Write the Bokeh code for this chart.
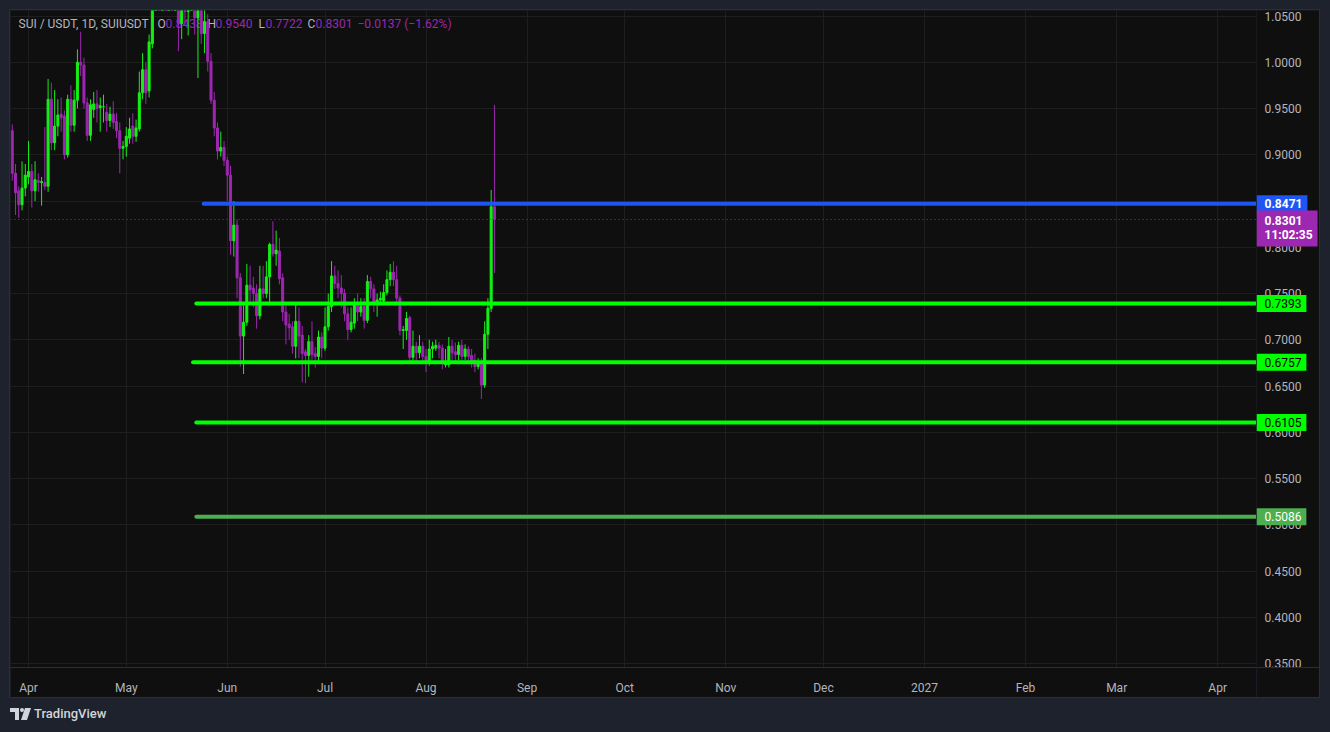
import pandas as pd
from bokeh.plotting import figure
from bokeh.models import (Range1d, FixedTicker, Label, Span, ColumnDataSource, Div)
from bokeh.layouts import column, row
from bokeh.embed import file_html
from bokeh.resources import INLINE
from bokeh.core.properties import value

# ---------------- data ----------------
start_date = "2026-03-27"

opens = [
    .926, .880, .861, .846, .864,
    .876, .882, .861, .872, .870, .870, .866, .960, .913, .931,
    .944, .942, .900, .960, .932, .959, 1.000, .997, .956, .921,
    .949, .955, .951, .952, .946, .937, .944, .936, .926, .907,
    .909, .918, .931, .920, .928, .967, .992, .969, 1.020, 1.070,
    1.090, 1.080, 1.110, 1.090, 1.100, 1.075, 1.080, 1.042, 1.070, 1.055,
    1.072, 1.085, 1.048, 1.070, 1.031, 1.044, 1.001, .959, .929, .904,
    .908, .894, .878, .807, .824, .767, .704, .719, .759, .756,
    .750, .726, .755, .750, .768, .803, .793, .796, .767, .730,
    .717, .714, .693, .720, .705, .687, .683, .698, .685, .682,
    .703, .691, .714, .736, .769, .761, .756, .750, .728, .711,
    .718, .740, .730, .736, .721, .763, .755, .740, .743, .742,
    .751, .765, .773, .765, .745, .710, .710, .724, .681, .693,
    .686, .693, .682, .676, .690, .691, .694, .691, .673, .673,
    .693, .687, .684, .694, .682, .690, .683, .678, .671, .676,
    .651, .706, .734, .8438,
]
highs = [
    .933, .890, .866, .893, .890,
    .915, .890, .893, .880, .876, .930, .982, .978, .970, .960,
    .962, .948, .965, .975, .970, 1.014, 1.033, 1.005, .962, .960,
    .968, .970, .962, .965, .955, .952, .958, .945, .935, .915,
    .930, .940, .945, .938, .990, 1.010, 1.000, 1.030, 1.080, 1.100,
    1.110, 1.120, 1.125, 1.115, 1.110, 1.095, 1.090, 1.085, 1.080, 1.085,
    1.095, 1.095, 1.080, 1.085, 1.060, 1.052, 1.010, .968, .935, .925,
    .915, .898, .888, .850, .830, .772, .740, .782, .780, .768,
    .760, .780, .780, .785, .805, .828, .818, .810, .772, .738,
    .728, .720, .740, .735, .715, .690, .705, .720, .692, .710,
    .708, .735, .750, .785, .780, .775, .770, .755, .735, .735,
    .745, .750, .745, .745, .770, .768, .760, .750, .752, .760,
    .775, .782, .785, .780, .748, .715, .730, .726, .710, .698,
    .705, .698, .690, .700, .698, .700, .698, .695, .690, .703,
    .700, .697, .698, .700, .695, .693, .690, .685, .680, .680,
    .720, .745, .862, .954,
]
lows = [
    .872, .835, .832, .840, .855,
    .868, .843, .850, .860, .845, .862, .860, .905, .905, .920,
    .925, .895, .897, .925, .925, .950, .985, .950, .915, .915,
    .940, .935, .925, .935, .925, .930, .928, .918, .880, .895,
    .898, .912, .912, .914, .925, .960, .955, .962, 1.015, 1.060,
    1.070, 1.075, 1.085, 1.075, 1.065, 1.060, 1.012, 1.025, 1.040, 1.029,
    1.060, 1.030, .983, 1.020, 1.010, .990, .955, .920, .895, .898,
    .888, .850, .792, .790, .745, .671, .663, .715, .740, .735,
    .712, .722, .745, .745, .740, .790, .780, .760, .720, .695,
    .700, .685, .680, .680, .654, .653, .660, .678, .670, .675,
    .680, .688, .710, .730, .755, .745, .735, .720, .700, .708,
    .712, .720, .725, .712, .718, .745, .730, .725, .738, .738,
    .748, .758, .758, .740, .705, .690, .700, .675, .675, .675,
    .680, .675, .665, .672, .680, .688, .680, .668, .670, .670,
    .678, .675, .678, .675, .678, .675, .670, .665, .668, .636,
    .648, .690, .730, .7722,
]
closes = [
    .880, .859, .846, .864, .878,
    .882, .861, .873, .870, .871, .866, .960, .913, .931, .943,
    .940, .900, .960, .932, .959, 1.000, .997, .956, .921, .954,
    .955, .950, .953, .952, .937, .944, .935, .926, .907, .909,
    .920, .928, .920, .929, .967, .992, .967, 1.022, 1.070, 1.090,
    1.080, 1.110, 1.090, 1.100, 1.075, 1.080, 1.042, 1.070, 1.055, 1.072,
    1.085, 1.048, 1.070, 1.031, 1.044, 1.001, .959, .929, .904, .908,
    .894, .878, .807, .824, .767, .704, .719, .759, .754, .750,
    .726, .755, .750, .768, .803, .793, .797, .766, .730, .716,
    .713, .693, .720, .704, .685, .683, .698, .684, .682, .703,
    .691, .714, .736, .769, .761, .756, .750, .728, .711, .719,
    .738, .730, .736, .721, .763, .755, .740, .743, .745, .751,
    .765, .773, .765, .745, .710, .711, .723, .681, .693, .686,
    .693, .682, .676, .690, .693, .694, .691, .674, .675, .693,
    .686, .684, .694, .682, .690, .682, .677, .671, .676, .651,
    .706, .734, .8438, .8301,
]

level_values = [0.8471, 0.7393, 0.6757, 0.6105, 0.5086]
level_starts = ["2026-05-24 18:00", "2026-05-22 12:00", "2026-05-21 12:00",
                "2026-05-22 12:00", "2026-05-22 12:00"]
level_colors = ["#1f55f5", "#00ff00", "#00ff00", "#00ff00", "#4caf50"]
level_text_colors = ["#ffffff", "#000000", "#000000", "#000000", "#ffffff"]

countdown = "11:02:35"
symbol_text = "SUI / USDT, 1D, SUIUSDT"

price_ticks = [0.35, 0.40, 0.45, 0.50, 0.55, 0.60, 0.65, 0.70, 0.75, 0.80,
               0.85, 0.90, 0.95, 1.00, 1.05]
month_ticks = ["2026-04-01", "2026-05-01", "2026-06-01", "2026-07-01", "2026-08-01",
               "2026-09-01", "2026-10-01", "2026-11-01", "2026-12-01", "2027-01-01",
               "2027-02-01", "2027-03-01", "2027-04-01"]
month_labels = ["Apr", "May", "Jun", "Jul", "Aug", "Sep", "Oct", "Nov", "Dec",
                "2027", "Feb", "Mar", "Apr"]

x_start, x_end = "2026-03-26 11:00", "2027-04-12 22:00"
y_start, y_end = 0.3457, 1.056

# ---------------- style ----------------
BG = "#0f0f0f"
OUTER = "#1e222d"
GRID = "#1e1e1e"
SEP = "#2a2e39"
TXT = "#b2b5be"
UP = "#14f014"
DOWN = "#9c27b0"
FONT = "Roboto"

dates = pd.date_range(start_date, periods=len(opens), freq="D")
cols = [UP if c >= o else DOWN for o, c in zip(opens, closes)]
src = ColumnDataSource(dict(
    date=dates, open=opens, high=highs, low=lows, close=closes,
    top=[max(o, c) for o, c in zip(opens, closes)],
    bottom=[min(o, c) for o, c in zip(opens, closes)],
    color=cols,
))

def ms(s):
    return float(pd.Timestamp(s).value // 10**6)

xr = Range1d(ms(x_start), ms(x_end))
yr = Range1d(y_start, y_end)

FW, H, AXW, BOT = 1246, 687, 63, 28
FH = H - BOT

# ---------------- main pane ----------------
p = figure(width=FW, height=H, x_axis_type="datetime", y_axis_location=None,
           x_range=xr, y_range=yr, toolbar_location=None, output_backend="svg",
           min_border_left=0, min_border_top=0, min_border_right=0, min_border_bottom=BOT,
           background_fill_color=BG, border_fill_color=BG)
p.outline_line_color = None

tick_ms = [ms(t) for t in month_ticks]
p.xaxis.ticker = FixedTicker(ticks=tick_ms)
p.xaxis.major_label_overrides = {t: lab for t, lab in zip(tick_ms, month_labels)}
p.xgrid.ticker = FixedTicker(ticks=tick_ms)
p.ygrid.ticker = FixedTicker(ticks=price_ticks)
p.xaxis.major_tick_line_color = None
p.xaxis.minor_tick_line_color = None
p.xaxis.major_label_text_color = TXT
p.xaxis.major_label_text_font = FONT
p.xaxis.major_label_text_font_size = "12px"
p.xaxis.axis_line_color = SEP
p.xaxis.major_label_standoff = 7
p.grid.grid_line_color = GRID

# header (drawn under candles)
o, h, l, c = opens[-1], highs[-1], lows[-1], closes[-1]
chg = c - o
pct = chg / o * 100
header = [
    (symbol_text, TXT, 8),
    ("O", TXT, 147), (f"{o:.4f}", DOWN, 155),
    ("H", TXT, 197), (f"{h:.4f}", DOWN, 205),
    ("L", TXT, 248), (f"{l:.4f}", DOWN, 255),
    ("C", TXT, 297), (f"{c:.4f}", DOWN, 305),
    (f"{chg:+.4f} ({pct:+.2f}%)".replace("-", "\u2212"), DOWN, 347),
]
for txt, col, x in header:
    p.add_layout(Label(x=x, y=FH - 15, x_units="screen", y_units="screen", text=txt,
                       text_color=col, text_font=FONT, text_font_size="12px",
                       text_baseline="middle", level="underlay"))

# candles
p.segment(x0="date", y0="low", x1="date", y1="high", color="color", line_width=1, source=src)
p.vbar(x="date", width=0.62 * 86400000, top="top", bottom="bottom", fill_color="color",
       line_color="color", line_width=1, source=src)

# last price dotted line
p.add_layout(Span(location=closes[-1], dimension="width", line_color=DOWN,
                  line_dash="1 3", line_width=1))

# level lines
p.segment(x0=[pd.Timestamp(s) for s in level_starts], y0=level_values,
          x1=[pd.Timestamp(x_end)] * len(level_values), y1=level_values,
          line_color=level_colors, line_width=4, line_cap="round")

# ---------------- price scale pane ----------------
p2 = figure(width=AXW, height=H, x_range=Range1d(0, AXW), y_range=yr,
            y_axis_location=None, toolbar_location=None, output_backend="svg",
            min_border_left=0, min_border_top=0, min_border_right=0, min_border_bottom=BOT,
            background_fill_color=BG, border_fill_color=BG)
p2.outline_line_color = None
p2.grid.visible = False
p2.xaxis.ticker = FixedTicker(ticks=[])
p2.xaxis.major_label_text_font_size = "0px"
p2.xaxis.major_tick_line_color = None
p2.xaxis.minor_tick_line_color = None
p2.xaxis.axis_line_color = SEP

p2.text(x=0, y=price_ticks, text=[f"{t:.4f}" for t in price_ticks], x_offset=8,
        text_color=TXT, text_font=value(FONT), text_font_size="12px",
        text_baseline="middle", text_align="left")

for v, col, tcol in zip(level_values, level_colors, level_text_colors):
    bold = "bold" if tcol == "#ffffff" and col != "#4caf50" else "normal"
    p2.add_layout(Label(x=0, y=v, text=f"{v:.4f}", text_color=tcol, text_font=FONT,
                        text_font_size="12px", text_font_style=bold,
                        text_baseline="middle", text_align="left",
                        background_fill_color=col,
                        padding=dict(left=8, right=5, top=4, bottom=4)))

p2.add_layout(Label(x=0, y=closes[-1], y_offset=9, text=f"{closes[-1]:.4f}\n{countdown}",
                    text_color="#ffffff", text_font=FONT, text_font_size="12px",
                    text_font_style="bold", text_baseline="top", text_align="left",
                    text_line_height=1.0, background_fill_color=DOWN,
                    padding=dict(left=8, right=5, top=4, bottom=4)))

logo = Div(text=(
    '<div style="display:flex;align-items:center;height:34px;gap:3px;">'
    '<svg width="21" height="12" viewBox="0 0 21 12">'
    '<path d="M0 0H9V12H5V4H0Z" fill="#d1d4dc"/>'
    '<circle cx="12" cy="2" r="2" fill="#d1d4dc"/>'
    '<path d="M15 0H21L17 12H11Z" fill="#d1d4dc"/></svg>'
    '<span style="color:#d1d4dc;font-family:Roboto;font-size:13px;font-weight:500;">TradingView</span>'
    '</div>'), width=200, height=34, margin=(0, 0, 0, 0))

chart = row(p, p2, spacing=0, styles={"outline": "1px solid %s" % SEP})
layout = column(chart, logo, spacing=0)

html = file_html(layout, INLINE, title="SUI / USDT")
css = ("<style>html,body{background:%s;margin:0;padding:0;}"
       "body{padding:10px 0 0 10px;}</style>" % OUTER)
html = html.replace("</head>", css + "</head>", 1)
open("out.html", "w").write(html)
